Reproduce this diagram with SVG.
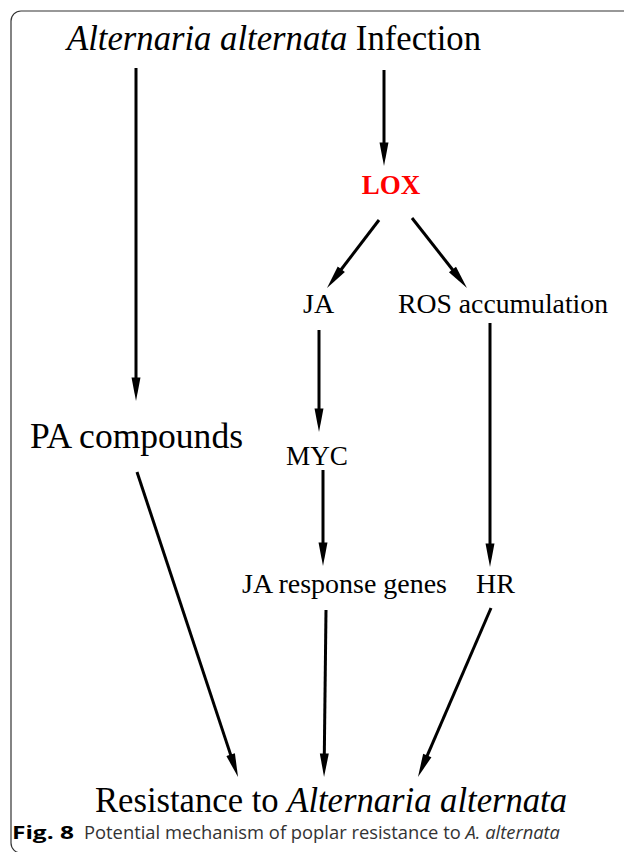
<svg xmlns="http://www.w3.org/2000/svg" width="624" height="852" viewBox="0 0 624 852">
<style>
.t{font-family:"Liberation Serif","Times New Roman",serif;fill:#000}
.i{font-style:italic}
.cap{font-family:"Open Sans","Noto Sans",sans-serif;fill:#333}
.c line{stroke:#000;stroke-width:3;fill:none;marker-end:url(#ah)}
</style>
<defs>
<marker id="ah" markerUnits="userSpaceOnUse" viewBox="-2 -5 25 10" markerWidth="25" markerHeight="10" refX="0" refY="0" orient="auto">
<path d="M-1.5,-4.5 L22,0 L-1.5,4.5 z" fill="#000"/>
</marker>
</defs>
<rect id="frame" x="11" y="11" width="660" height="842" rx="10" ry="10" fill="#fff" stroke="#333" stroke-width="1.2"/>
<g id="infection"><text class="t" x="67" y="50" font-size="35" textLength="414" lengthAdjust="spacingAndGlyphs"><tspan class="i">Alternaria alternata</tspan> Infection</text></g>
<g id="lox"><text class="t" x="391" y="194" font-size="27" font-weight="bold" fill="#ff0000" style="fill:#ff0000" text-anchor="middle">LOX</text></g>
<g id="ja"><text class="t" x="303" y="313" font-size="28">JA</text></g>
<g id="ros"><text class="t" x="398" y="313" font-size="28" textLength="210" lengthAdjust="spacingAndGlyphs">ROS accumulation</text></g>
<g id="pa"><text class="t" x="30" y="448" font-size="35" textLength="213" lengthAdjust="spacingAndGlyphs">PA compounds</text></g>
<g id="myc"><text class="t" x="286" y="465" font-size="28" textLength="62" lengthAdjust="spacingAndGlyphs">MYC</text></g>
<g id="jagenes"><text class="t" x="242" y="593" font-size="28" textLength="205" lengthAdjust="spacingAndGlyphs">JA response genes</text></g>
<g id="hr"><text class="t" x="476" y="593" font-size="28">HR</text></g>
<g id="resistance"><text class="t" x="95" y="812" font-size="35" textLength="472" lengthAdjust="spacingAndGlyphs">Resistance to <tspan class="i">Alternaria alternata</tspan></text></g>
<g class="c" id="connectors">
<line x1="136" y1="68" x2="136" y2="379"/>
<line x1="384" y1="70" x2="384" y2="144"/>
<line x1="379" y1="220" x2="340.4" y2="270.5"/>
<line x1="412" y1="218" x2="453.4" y2="270.7"/>
<line x1="319" y1="330" x2="319" y2="410"/>
<line x1="490" y1="323" x2="490" y2="545"/>
<line x1="323" y1="470" x2="323" y2="544"/>
<line x1="137" y1="472" x2="231.1" y2="756.1"/>
<line x1="326" y1="610" x2="324.3" y2="755"/>
<line x1="491" y1="608" x2="426.7" y2="756.8"/>
</g>
<g id="caption">
<text class="cap" x="12" y="839" font-size="18" font-weight="bold" fill="#000" style="fill:#000" textLength="62" lengthAdjust="spacingAndGlyphs">Fig. 8</text>
<text class="cap" x="84" y="839" font-size="18" textLength="476" lengthAdjust="spacingAndGlyphs">Potential mechanism of poplar resistance to <tspan font-style="italic">A. alternata</tspan></text>
</g>
</svg>
